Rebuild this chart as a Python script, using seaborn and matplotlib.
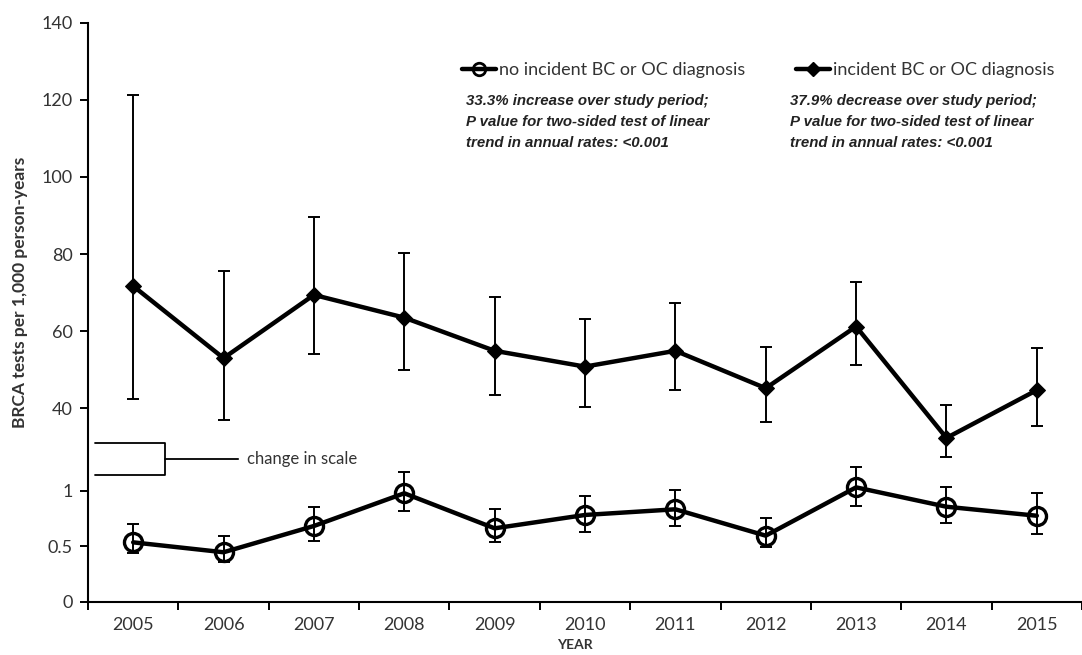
import numpy as np
import pandas as pd
import matplotlib
matplotlib.use("Agg")
import matplotlib.pyplot as plt
import seaborn as sns
from matplotlib.lines import Line2D

years = list(range(2005, 2016))

# incident BC or OC diagnosis (upper scale)
inc_rate = [71.7, 53.0, 69.4, 63.5, 54.9, 50.8, 54.9, 45.2, 61.2, 32.3, 44.7]
inc_lo = [42.3, 37.0, 54.0, 50.0, 43.4, 40.3, 44.7, 36.5, 51.2, 27.4, 35.5]
inc_hi = [121.3, 75.6, 89.7, 80.2, 68.9, 63.2, 67.2, 56.0, 72.7, 40.9, 55.7]

# no incident BC or OC diagnosis (lower scale)
no_rate = [0.536, 0.447, 0.683, 0.977, 0.662, 0.782, 0.833, 0.596, 1.03, 0.856, 0.775]
no_lo = [0.437, 0.362, 0.551, 0.82, 0.536, 0.632, 0.683, 0.497, 0.865, 0.707, 0.611]
no_hi = [0.70, 0.596, 0.854, 1.165, 0.833, 0.952, 1.006, 0.757, 1.216, 1.036, 0.982]

upper_ticks = [40, 60, 80, 100, 120, 140]
lower_ticks = [0, 0.5, 1]
lower_tick_labels = ["0", "0.5", "1"]

label_no = "no incident BC or OC diagnosis"
label_inc = "incident BC or OC diagnosis"
note_no = "33.3% increase over study period;\nP value for two-sided test of linear\ntrend in annual rates: <0.001"
note_inc = "37.9% decrease over study period;\nP value for two-sided test of linear\ntrend in annual rates: <0.001"

df_inc = pd.DataFrame({"year": years, "rate": inc_rate, "lo": inc_lo, "hi": inc_hi})
df_no = pd.DataFrame({"year": years, "rate": no_rate, "lo": no_lo, "hi": no_hi})

sns.set_style("ticks")
plt.rcParams["font.family"] = ["Lato", "DejaVu Sans"]
txt = "#333333"

W, H = 1082, 655
fig = plt.figure(figsize=(W / 100, H / 100), dpi=100)
rect = [88 / W, 1 - 602 / H, 994 / W, 579.3 / H]
ax_low = fig.add_axes(rect)
ax_up = fig.add_axes(rect, sharex=ax_low)
ax_up.patch.set_visible(False)

# lower series: open circles
sns.lineplot(data=df_no, x="year", y="rate", ax=ax_low, color="black", lw=3.2,
             marker="o", markersize=13, markerfacecolor="none",
             markeredgecolor="black", markeredgewidth=2.4, legend=False, zorder=3)
ax_low.errorbar(df_no["year"], df_no["rate"],
                yerr=[df_no["rate"] - df_no["lo"], df_no["hi"] - df_no["rate"]],
                fmt="none", ecolor="black", elinewidth=1.4, capsize=4, capthick=1.4, zorder=2)

# upper series: filled diamonds
sns.lineplot(data=df_inc, x="year", y="rate", ax=ax_up, color="black", lw=3.2,
             marker="D", markersize=8, markerfacecolor="black",
             markeredgecolor="black", legend=False, zorder=3)
ax_up.errorbar(df_inc["year"], df_inc["rate"],
               yerr=[df_inc["rate"] - df_inc["lo"], df_inc["hi"] - df_inc["rate"]],
               fmt="none", ecolor="black", elinewidth=1.4, capsize=4, capthick=1.4, zorder=2)

ax_low.set_xlim(2004.5, 2015.37)
ax_low.set_ylim(0, 5.205)
ax_up.set_ylim(-10.25, 140)

ax_low.set_xticks(years)
ax_low.set_xticklabels([str(y) for y in years])
ax_low.set_xticks(np.arange(2004.5, 2015.6, 1), minor=True)
ax_low.tick_params(axis="x", which="major", length=0, pad=11, labelsize=13, labelcolor=txt)
ax_low.tick_params(axis="x", which="minor", length=6, width=1.4, direction="out", color="black")
ax_low.set_yticks(lower_ticks)
ax_low.set_yticklabels(lower_tick_labels)
ax_low.tick_params(axis="y", length=6, width=1.4, pad=5, labelsize=13, labelcolor=txt, color="black")

ax_up.set_yticks(upper_ticks)
ax_up.tick_params(axis="y", length=6, width=1.4, pad=5, labelsize=13, labelcolor=txt, color="black")
ax_up.tick_params(axis="x", which="both", bottom=False, labelbottom=False)
for s in ax_up.spines.values():
    s.set_visible(False)
for s in ["top", "right"]:
    ax_low.spines[s].set_visible(False)
for s in ["left", "bottom"]:
    ax_low.spines[s].set_linewidth(1.5)
    ax_low.spines[s].set_color("black")
ax_up.set_xlabel("")
ax_up.set_ylabel("")

ax_low.set_ylabel("BRCA tests per 1,000 person-years", fontweight="bold", fontsize=12.5, color=txt)
ax_low.yaxis.set_label_coords(-0.06, 0.535)
ax_low.set_xlabel("YEAR", fontweight="bold", fontsize=10, color=txt, va="top")
ax_low.xaxis.set_label_coords(0.49, -0.064)

# change in scale brace
ax_low.annotate("change in scale", xy=(165 / W, 1 - 459 / H), xycoords="figure fraction",
                xytext=(247 / W, 1 - 459 / H), textcoords="figure fraction",
                va="center", ha="left", fontsize=12, color=txt,
                arrowprops=dict(arrowstyle="-[, widthB=0.95, lengthB=4.2",
                                color="black", lw=1.3, shrinkA=4, shrinkB=0))

handles = [
    Line2D([], [], color="black", lw=3.2, marker="o", markersize=9,
           markerfacecolor="none", markeredgewidth=2),
    Line2D([], [], color="black", lw=3.2, marker="D", markersize=7,
           markerfacecolor="black"),
]
leg = ax_up.legend(handles, [label_no, label_inc], ncol=2, loc="center left",
                   bbox_to_anchor=(462 / W, 1 - 70 / H), bbox_transform=fig.transFigure,
                   frameon=False, handlelength=1.9, handletextpad=0.15,
                   columnspacing=2.8, borderpad=0, borderaxespad=0, fontsize=13)
for t in leg.get_texts():
    t.set_color(txt)

narrow = ["Liberation Sans Narrow", "Liberation Sans", "DejaVu Sans"]
fig.text(466 / W, 1 - 94 / H, note_no, family=narrow, fontstyle="italic",
         fontweight="bold", fontsize=10.8, color="#222222", va="top", linespacing=1.62)
fig.text(790 / W, 1 - 94 / H, note_inc, family=narrow, fontstyle="italic",
         fontweight="bold", fontsize=10.8, color="#222222", va="top", linespacing=1.62)

fig.savefig("out.png", dpi=100)
